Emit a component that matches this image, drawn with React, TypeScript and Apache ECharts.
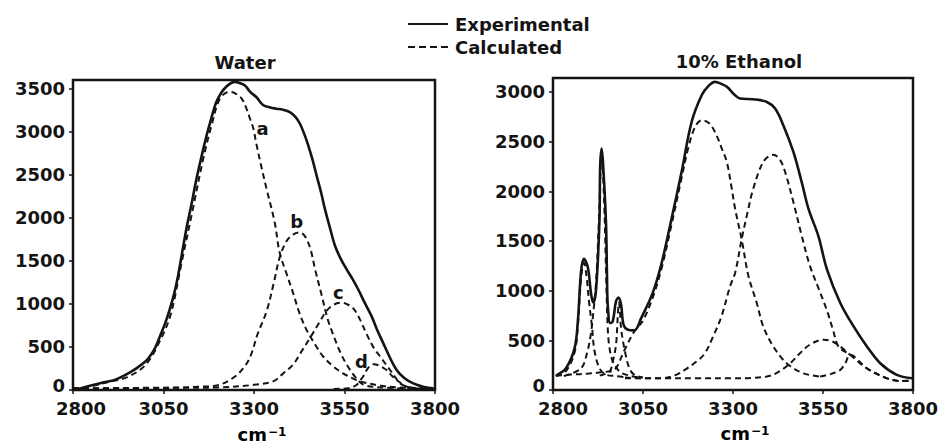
import React, { useEffect, useRef } from "react";
import * as echarts from "echarts";

type Pt = [number, number];

// Wavenumber axis shared by both panels (cm^-1)
const X_MIN = 2800;
const X_MAX = 3800;
const X_STEP = 250;
const Y_STEP = 500;
const WATER_Y_MAX = 3600;
const ETHANOL_Y_MAX = 3140;

// ---- Water ----
const waterExperimental: Pt[] = [
  [2805, 0], [2830, 30], [2855, 58], [2885, 90], [2915, 117], [2945, 175], [2975, 252],
  [3000, 330], [3012, 389], [3027, 490], [3040, 622], [3055, 780], [3067, 933], [3080, 1130],
  [3090, 1322], [3100, 1560], [3113, 1867], [3127, 2150], [3141, 2450], [3155, 2710],
  [3169, 2956], [3183, 3170], [3196, 3344], [3210, 3455], [3224, 3525], [3237, 3565],
  [3247, 3578], [3260, 3565], [3275, 3535], [3290, 3460], [3307, 3400], [3325, 3310],
  [3345, 3280], [3362, 3267], [3380, 3255], [3399, 3228], [3415, 3170], [3427, 3092],
  [3440, 2960], [3450, 2839], [3462, 2670], [3473, 2489], [3485, 2300], [3496, 2100],
  [3510, 1880], [3524, 1672], [3540, 1520], [3556, 1400], [3572, 1290], [3588, 1167],
  [3605, 1020], [3625, 855], [3640, 700], [3657, 544], [3675, 380], [3694, 233],
  [3715, 140], [3740, 77], [3770, 35], [3795, 19],
];
const waterA: Pt[] = [
  [2800, 15], [2850, 45], [2900, 95], [2950, 150], [3000, 290], [3040, 570], [3070, 880],
  [3100, 1480], [3130, 2080], [3160, 2690], [3185, 3110], [3204, 3370], [3222, 3450],
  [3236, 3460], [3250, 3440], [3266, 3384], [3280, 3260], [3289, 3150], [3298, 3040],
  [3307, 2850], [3320, 2600], [3335, 2330], [3357, 1950], [3371, 1594], [3390, 1350],
  [3408, 1127], [3425, 900], [3445, 700], [3470, 520], [3491, 389], [3520, 270],
  [3546, 194], [3575, 130], [3602, 90], [3650, 50], [3700, 30], [3800, 15],
];
const waterB: Pt[] = [
  [2800, 20], [2900, 22], [3000, 25], [3100, 30], [3150, 38], [3200, 55], [3242, 140],
  [3270, 250], [3290, 390], [3310, 650], [3335, 917], [3355, 1250], [3371, 1540],
  [3390, 1730], [3408, 1805], [3425, 1830], [3440, 1790], [3455, 1650], [3470, 1380],
  [3487, 1100], [3503, 830], [3519, 640], [3537, 450], [3556, 295], [3580, 150],
  [3602, 62], [3650, 30], [3750, 15],
];
const waterC: Pt[] = [
  [2800, 20], [3100, 25], [3200, 30], [3300, 60], [3353, 100], [3380, 190], [3408, 295],
  [3430, 440], [3455, 607], [3480, 780], [3500, 917], [3520, 990], [3541, 1013],
  [3560, 990], [3576, 940], [3593, 817], [3610, 660], [3630, 495], [3650, 380],
  [3670, 265], [3690, 150], [3705, 70], [3740, 25], [3800, 15],
];
const waterD: Pt[] = [
  [3520, 12], [3560, 20], [3583, 58], [3595, 120], [3602, 160], [3615, 255], [3630, 300],
  [3645, 285], [3666, 233], [3680, 170], [3694, 117], [3722, 39], [3760, 15], [3800, 10],
];
// Band letters placed next to each water component
const waterBandLabels: [number, number, string][] = [
  [3324, 3037, "a"],
  [3418, 1955, "b"],
  [3533, 1127, "c"],
  [3597, 330, "d"],
];

// ---- 10% Ethanol ----
const ethanolExperimental: Pt[] = [
  [2808, 145], [2836, 219], [2860, 421], [2869, 691], [2878, 1197], [2886, 1320],
  [2897, 1230], [2906, 961], [2912, 880], [2920, 1028], [2929, 1702], [2931, 2250],
  [2935, 2430], [2939, 2280], [2947, 1702], [2950, 1150], [2952, 860], [2959, 674],
  [2966, 691], [2975, 893], [2982, 930], [2989, 860], [2996, 657], [3008, 607],
  [3026, 600], [3045, 724], [3077, 977], [3102, 1281], [3129, 1719], [3157, 2191],
  [3185, 2697], [3213, 2966], [3232, 3060], [3250, 3101], [3268, 3080], [3283, 3051],
  [3306, 2966], [3320, 2933], [3356, 2926], [3394, 2899], [3417, 2832], [3440, 2663],
  [3468, 2393], [3491, 2090], [3510, 1820], [3537, 1551], [3561, 1214], [3598, 876],
  [3635, 640], [3672, 438], [3709, 269], [3755, 152], [3797, 118],
];
const ethanolCH1: Pt[] = [
  [2808, 140], [2836, 190], [2860, 380], [2869, 640], [2878, 1130], [2886, 1280],
  [2893, 1150], [2900, 890], [2908, 650], [2915, 400], [2929, 220], [2947, 155],
  [2975, 140], [3000, 130],
];
const ethanolCH2: Pt[] = [
  [2830, 140], [2878, 219], [2895, 380], [2905, 560], [2912, 780], [2920, 1100],
  [2928, 1750], [2935, 2380], [2942, 1900], [2948, 1100], [2952, 623], [2957, 421],
  [2966, 290], [2985, 185], [3011, 145], [3040, 125],
];
const ethanolCH3: Pt[] = [
  [2930, 145], [2957, 185], [2966, 286], [2975, 455], [2980, 750], [2983, 880],
  [2986, 800], [2989, 623], [2999, 405], [3012, 219], [3026, 152], [3050, 125],
];
const ethanolA: Pt[] = [
  [2808, 145], [2850, 155], [2900, 165], [2950, 185], [2971, 202], [2999, 405],
  [3026, 590], [3050, 700], [3077, 930], [3102, 1230], [3129, 1660], [3157, 2130],
  [3176, 2440], [3195, 2650], [3213, 2714], [3232, 2690], [3250, 2596], [3270, 2420],
  [3283, 2292], [3295, 2060], [3306, 1821], [3324, 1517], [3343, 1146], [3366, 876],
  [3384, 640], [3412, 438], [3449, 269], [3496, 168], [3542, 135],
];
const ethanolB: Pt[] = [
  [3000, 125], [3050, 118], [3102, 118], [3140, 150], [3166, 202], [3200, 290],
  [3222, 370], [3245, 540], [3268, 741], [3292, 1045], [3306, 1180], [3324, 1517],
  [3340, 1780], [3356, 2023], [3385, 2300], [3412, 2367], [3430, 2320], [3445, 2191],
  [3468, 1887], [3491, 1551], [3514, 1247], [3540, 1000], [3561, 800], [3579, 590],
  [3593, 438], [3625, 354], [3672, 218], [3728, 117], [3765, 91], [3800, 95],
];
const ethanolC: Pt[] = [
  [3000, 118], [3100, 118], [3200, 118], [3292, 118], [3350, 122], [3400, 140],
  [3430, 190], [3459, 269], [3486, 370], [3515, 460], [3551, 506], [3575, 490],
  [3598, 438], [3625, 354],
];
const ethanolD: Pt[] = [
  [3542, 135], [3575, 165], [3598, 202], [3612, 270], [3625, 354], [3672, 218],
  [3728, 117], [3765, 91], [3800, 95],
];

const FONT = '"DejaVu Sans", Verdana, sans-serif';
const INK = "#141414";
const TEXT = { fontFamily: FONT, fontSize: 18, fontWeight: "bold" as const, fill: INK };
const LABEL_FONT = { color: INK, fontFamily: FONT, fontSize: 18, fontWeight: "bold" as const };

function solidLine(name: string, data: Pt[], idx: number) {
  return {
    type: "line", name, data, xAxisIndex: idx, yAxisIndex: idx,
    showSymbol: false, smooth: 0.35, silent: true, z: 4,
    lineStyle: { color: INK, width: 2.6 },
  };
}

function dashedLine(name: string, data: Pt[], idx: number) {
  return {
    type: "line", name, data, xAxisIndex: idx, yAxisIndex: idx,
    showSymbol: false, smooth: 0.35, silent: true, z: 3,
    lineStyle: { color: INK, width: 2, type: [6, 4] },
  };
}

// First wavenumber label sits a little right of its tick
function xAxisFor(grid: number, firstShift: number) {
  return {
    type: "value", gridIndex: grid, min: X_MIN, max: X_MAX, interval: X_STEP,
    axisLine: { show: false },
    axisTick: { show: true, length: 4, lineStyle: { color: INK, width: 1.5 } },
    axisLabel: {
      ...LABEL_FONT, lineHeight: 14, margin: 11,
      formatter: (v: number) => (v === X_MIN ? `{first|${v}}` : String(v)),
      rich: { first: { ...LABEL_FONT, lineHeight: 14, padding: [0, 0, 0, firstShift * 2] } },
    },
    splitLine: { show: false },
  };
}

// The "0" label is lifted a few pixels so it clears the wavenumber labels below
function yAxisFor(grid: number, max: number) {
  return {
    type: "value", gridIndex: grid, min: 0, max, interval: Y_STEP,
    axisLine: { show: false },
    axisTick: { show: true, length: 4, lineStyle: { color: INK, width: 1.5 } },
    axisLabel: {
      ...LABEL_FONT, lineHeight: 14, margin: 8, showMaxLabel: false,
      formatter: (v: number) => (v === 0 ? "{zero|0}" : String(v)),
      rich: { zero: { ...LABEL_FONT, lineHeight: 14, padding: [0, 0, 10, 0] } },
    },
    splitLine: { show: false },
  };
}

function unitLabel(x: number, y: number) {
  return {
    type: "text", x, y,
    style: {
      text: "{u|cm}{s|−1}", align: "center", verticalAlign: "middle",
      rich: {
        u: { ...LABEL_FONT, lineHeight: 16 },
        s: { ...LABEL_FONT, fontSize: 12, verticalAlign: "top", lineHeight: 12, padding: [0, 0, 6, 1] },
      },
    },
  };
}

export default function App() {
  const ref = useRef<HTMLDivElement>(null);

  useEffect(() => {
    if (!ref.current) return;
    const chart = echarts.init(ref.current, undefined, { renderer: "svg" });

    const staticGraphics: any[] = [
      // legend
      { type: "line", shape: { x1: 408, y1: 24, x2: 448, y2: 24 }, style: { stroke: INK, lineWidth: 2 } },
      { type: "text", x: 455, y: 24, style: { ...TEXT, text: "Experimental", verticalAlign: "middle" } },
      { type: "line", shape: { x1: 408, y1: 47, x2: 450, y2: 47 }, style: { stroke: INK, lineWidth: 2, lineDash: [7, 4] } },
      { type: "text", x: 455, y: 47, style: { ...TEXT, text: "Calculated", verticalAlign: "middle" } },
      // panel titles
      { type: "text", x: 245, y: 62, style: { ...TEXT, text: "Water", align: "center", verticalAlign: "middle" } },
      { type: "text", x: 739, y: 61, style: { ...TEXT, text: "10% Ethanol", align: "center", verticalAlign: "middle" } },
      // axis units
      unitLabel(262, 434),
      unitLabel(745, 433),
    ];

    chart.setOption({
      animation: false,
      backgroundColor: "#ffffff",
      grid: [
        { left: 73, top: 80, width: 362, height: 310, show: true, borderColor: INK, borderWidth: 2.5 },
        { left: 553, top: 78, width: 360, height: 312, show: true, borderColor: INK, borderWidth: 2.5 },
      ],
      xAxis: [xAxisFor(0, 8), xAxisFor(1, 10)],
      yAxis: [yAxisFor(0, WATER_Y_MAX), yAxisFor(1, ETHANOL_Y_MAX)],
      series: [
        solidLine("Water experimental", waterExperimental, 0),
        dashedLine("a", waterA, 0),
        dashedLine("b", waterB, 0),
        dashedLine("c", waterC, 0),
        dashedLine("d", waterD, 0),
        solidLine("Ethanol experimental", ethanolExperimental, 1),
        dashedLine("CH1", ethanolCH1, 1),
        dashedLine("CH2", ethanolCH2, 1),
        dashedLine("CH3", ethanolCH3, 1),
        dashedLine("A", ethanolA, 1),
        dashedLine("B", ethanolB, 1),
        dashedLine("C", ethanolC, 1),
        dashedLine("D", ethanolD, 1),
      ],
      graphic: staticGraphics,
    });

    // Band letters positioned through the water panel's own axes
    const bandTexts = waterBandLabels.map(([x, y, letter]) => {
      const [px, py] = chart.convertToPixel({ gridIndex: 0 }, [x, y]) as number[];
      return {
        type: "text", x: px, y: py, z: 10,
        style: { ...TEXT, text: letter, align: "center", verticalAlign: "middle" },
      };
    });
    chart.setOption({ graphic: [...staticGraphics, ...bandTexts] });

    return () => chart.dispose();
  }, []);

  return (
    <div
      ref={ref}
      style={{ position: "fixed", left: 0, top: 0, width: 942, height: 446, background: "#fff" }}
    />
  );
}
